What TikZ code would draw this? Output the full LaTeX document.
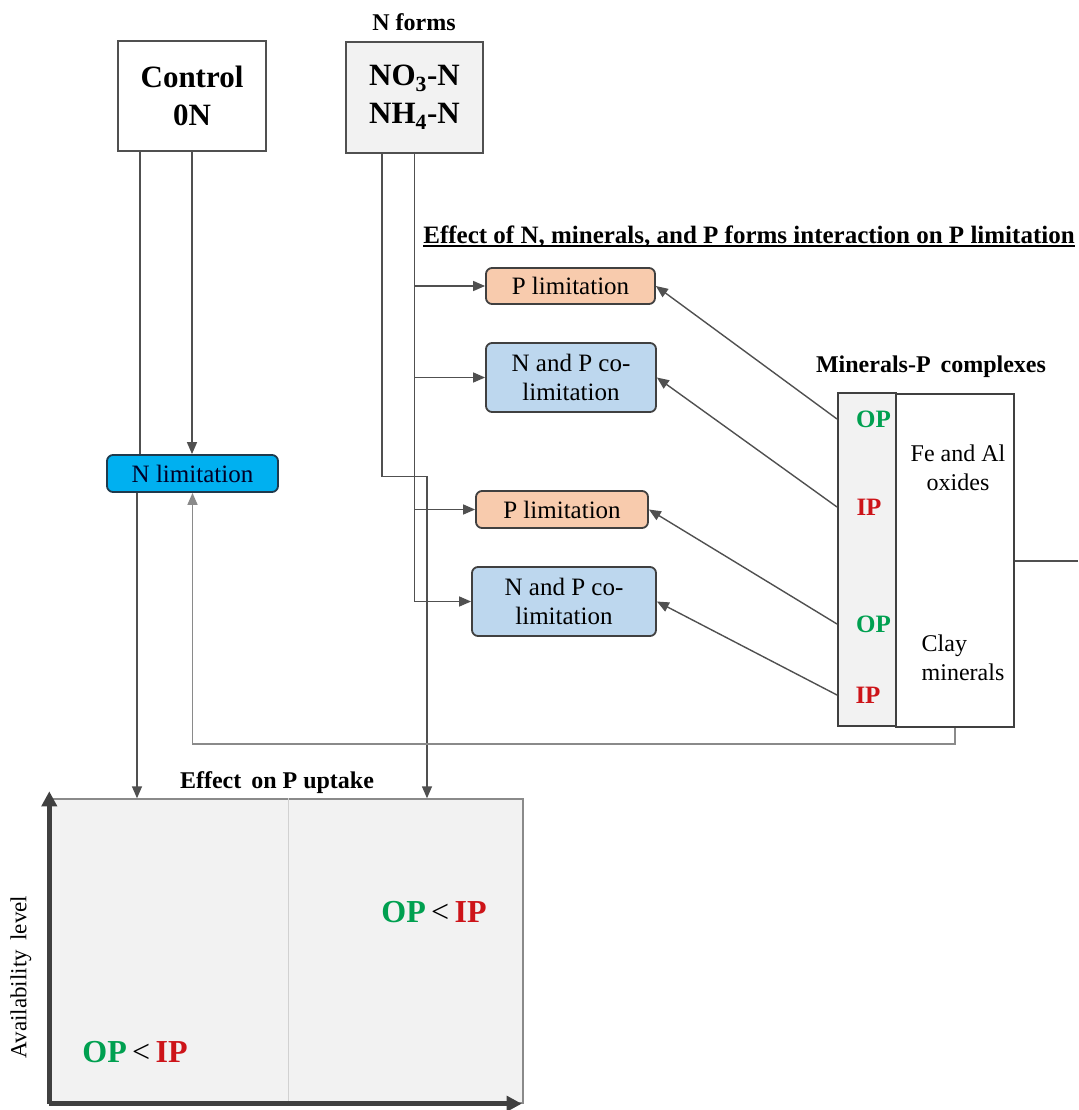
\documentclass[tikz,border=0pt]{standalone}
\usepackage{fontspec}
\setmainfont{Liberation Serif}
\newfontfamily\tnr{Liberation Serif}
\usetikzlibrary{arrows.meta,calc}
\definecolor{dk}{HTML}{404040}
\definecolor{ln}{HTML}{505050}
\definecolor{fbln}{HTML}{8A8A8A}
\definecolor{lightfill}{HTML}{F2F2F2}
\definecolor{peach}{HTML}{F8CBAD}
\definecolor{paleblue}{HTML}{BDD7EE}
\definecolor{nblue}{HTML}{00B0F0}
\definecolor{nborder}{HTML}{1F3A4D}
\definecolor{opgreen}{RGB}{0,160,80}
\definecolor{ipred}{RGB}{205,20,25}
\newcommand\myfs[2]{\fontsize{#1}{#2}\selectfont}
\begin{document}
\begin{tikzpicture}[x=1pt,y=-1pt,
  sqbox/.style={draw=ln, line width=1.4pt, inner sep=0pt, align=center, font=\tnr\bfseries\myfs{31}{38}},
  rbox/.style={draw=dk, line width=1.8pt, rounded corners=6pt, inner sep=0pt, align=center, font=\tnr\mdseries\myfs{25}{29}},
  ln1/.style={draw=ln, line width=1.4pt},
  arr/.style={ln1, -{Triangle[length=12pt,width=10pt]}},
  fbarr/.style={draw=fbln, line width=1.6pt, -{Triangle[length=12pt,width=10pt]}},
  head/.style={font=\tnr\bfseries\myfs{24}{28}, inner sep=0pt},
  oplab/.style={font=\tnr\bfseries\myfs{25}{29}, text=opgreen, inner sep=0pt},
  iplab/.style={font=\tnr\bfseries\myfs{25}{29}, text=ipred, inner sep=0pt},
  minbox/.style={draw=dk, line width=2pt, inner sep=0pt},
  plain/.style={font=\tnr\mdseries\myfs{24}{29}, inner sep=0pt},
  axis/.style={draw=dk, line width=4.5pt, -{Triangle[length=15pt,width=15pt]}}
]
\useasboundingbox (0,0) rectangle (1078,1110);

% top boxes
\node[sqbox, minimum width=148pt, minimum height=110pt, fill=white] (ctrl) at (192,96) {Control\\0N};
\node[sqbox, minimum width=137pt, minimum height=111pt, fill=lightfill] (nf) at (414.5,97.5) {NO\textsubscript{3}-N\\NH\textsubscript{4}-N};
\node[head] (nftitle) at (414,22) {N forms};

% title
\node[head, font=\tnr\bfseries\myfs{25}{29}, anchor=base] (title) at (749,243) {Effect of N, minerals, and P forms interaction on P limitation};
\draw[line width=1.3pt] ([yshift=-3pt]title.base west) -- ([yshift=-3pt]title.base east);

% limitation boxes
\node[rbox, fill=nblue, draw=nborder, text=black!85!blue, minimum width=171pt, minimum height=37pt] (nlim) at (192.5,473.5) {N limitation};
\node[rbox, fill=peach, minimum width=169pt, minimum height=36pt] (plim1) at (570.5,286) {P limitation};
\node[rbox, fill=paleblue, minimum width=170pt, minimum height=69pt] (colim1) at (571,377.5) {N and P co-\\limitation};
\node[rbox, fill=peach, minimum width=172pt, minimum height=37pt] (plim2) at (562,509.5) {P limitation};
\node[rbox, fill=paleblue, minimum width=184pt, minimum height=69pt] (colim2) at (564,601.5) {N and P co-\\limitation};

% minerals
\node[head] (mintitle) at (931,367) {Minerals-P\, complexes};
\node[minbox, fill=lightfill, minimum width=58pt, minimum height=333pt] (strip) at (867,559.5) {};
\node[minbox, fill=white, minimum width=118pt, minimum height=333pt] (minr) at (955,560.5) {};
\node[oplab] (op1) at (873.5,419) {OP};
\node[iplab] (ip1) at (869,507) {IP};
\node[oplab] (op2) at (873.5,624) {OP};
\node[iplab] (ip2) at (868,695) {IP};
\node[plain, align=center] (feal) at (958,468) {Fe and Al\\oxides};
\node[plain, align=left] (clay) at (963,658) {Clay\\minerals};
\coordinate (edgeR) at (1078,561);

% effect chart
\node[head] (efftitle) at (277,783) {Effect\, on P uptake};
\node[draw=fbln, line width=1.4pt, fill=lightfill, minimum width=473pt, minimum height=304pt, inner sep=0pt] (eff) at (286.5,951) {};
\draw[draw=black!18, line width=1pt] ([xshift=1.5pt]eff.north) -- ([xshift=1.5pt]eff.south);
\draw[axis] (eff.south west) -- ([yshift=7pt]eff.north west);
\draw[axis] (eff.south west) -- ([xshift=-2pt]eff.south east);
\node[plain, font=\tnr\mdseries\myfs{23}{27}, rotate=90] (avail) at (21,977) {Availability\, level};
\node[font=\tnr\bfseries\myfs{32}{36}, inner sep=0pt] (cmp1) at (434,912) {\textcolor{opgreen}{OP}\,\textmd{<}\,\textcolor{ipred}{IP}};
\node[font=\tnr\bfseries\myfs{32}{36}, inner sep=0pt] (cmp2) at (135,1052) {\textcolor{opgreen}{OP}\,\textmd{<}\,\textcolor{ipred}{IP}};

% connectors from control
\draw[ln1] ([xshift=-52pt]ctrl.south) -- ([xshift=-52pt]ctrl.south |- nlim.north);
\draw[arr] (ctrl.south) -- (ctrl.south |- nlim.north);
\draw[arr] ([xshift=-55.5pt]nlim.south) -- ([xshift=-55.5pt]nlim.south |- eff.north);

% connectors from N forms
\draw[arr] ([xshift=-32.5pt]nf.south) -- ++(0,323) -| ([xshift=140.5pt]eff.north);
\draw[arr] (nf.south) |- (colim2.west);
\draw[arr] (nf.south |- plim1.west) -- (plim1.west);
\draw[arr] (nf.south |- colim1.west) -- (colim1.west);
\draw[arr] (nf.south |- plim2.west) -- (plim2.west);

% connectors from minerals
\draw[arr] (strip.west |- op1) -- (plim1.east);
\draw[arr] (strip.west |- ip1) -- (colim1.east);
\draw[arr] (strip.west |- op2) -- (plim2.east);
\draw[arr] (strip.west |- ip2) -- (colim2.east);
\draw[fbarr] (minr.south) -- ++(0,16) -| (nlim.south);
\draw[ln1] (minr.east |- edgeR) -- (edgeR);
\end{tikzpicture}
\end{document}
